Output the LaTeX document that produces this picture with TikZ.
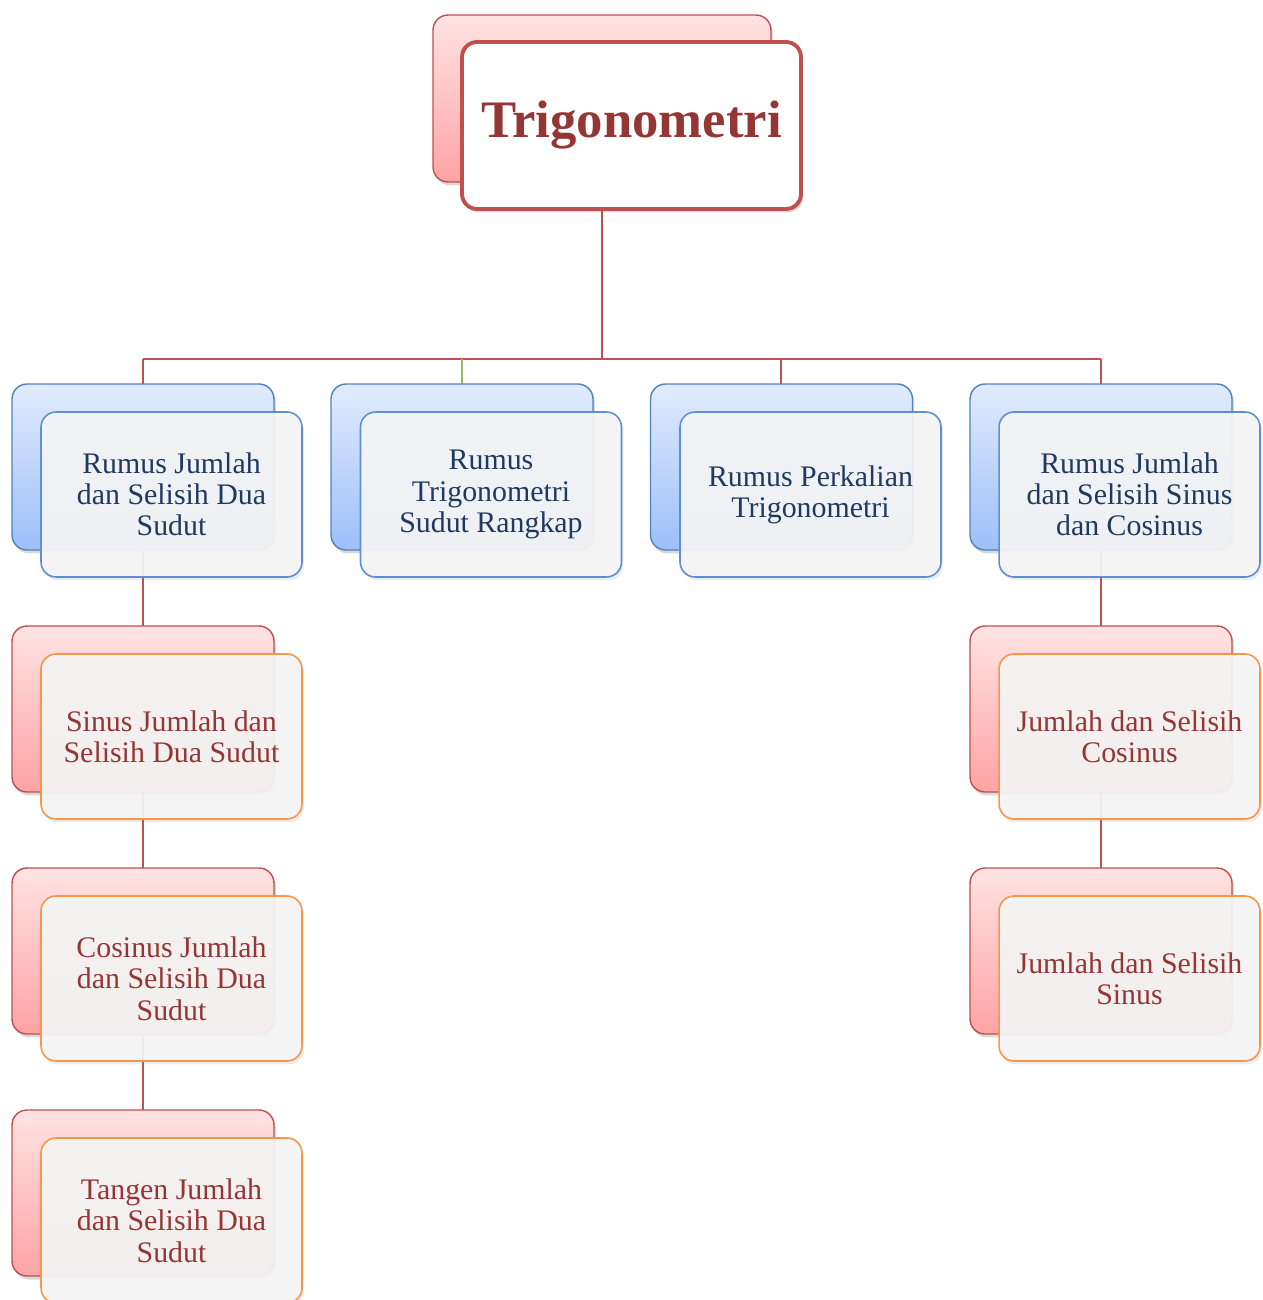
\documentclass[tikz,border=0pt]{standalone}
\usepackage{fontspec}
\setmainfont{Liberation Serif}
\usetikzlibrary{shadows}
\definecolor{lineRed}{HTML}{C0504D}
\definecolor{lineGreen}{HTML}{9BBB59}
\definecolor{redEdge}{HTML}{C0504D}
\definecolor{redTop}{HTML}{FFE3E3}
\definecolor{redBot}{HTML}{FFA3A3}
\definecolor{blueEdge}{HTML}{4F81BD}
\definecolor{blueTop}{HTML}{E1EBFC}
\definecolor{blueBot}{HTML}{9DBFF9}
\definecolor{blueFront}{HTML}{5B8FD6}
\definecolor{orangeEdge}{HTML}{F79646}
\definecolor{frontFill}{HTML}{F5F5F5}
\definecolor{blueText}{HTML}{1F3A60}
\definecolor{redText}{HTML}{943634}
\tikzset{
  conn/.style={draw=lineRed, line width=1.1pt},
  shade/.style={drop shadow={opacity=0.3, shadow xshift=0.04cm, shadow yshift=-0.07cm}},
  lightshade/.style={drop shadow={opacity=0.15, shadow xshift=0.04cm, shadow yshift=-0.07cm}},
  backbox/.style={rounded corners=0.3cm, minimum width=5.24cm, minimum height=3.32cm, inner sep=0pt, line width=0.8pt, shade},
  blueback/.style={backbox, draw=blueEdge, top color=blueTop, bottom color=blueBot},
  redback/.style={backbox, draw=redEdge, top color=redTop, bottom color=redBot},
  frontbox/.style={rounded corners=0.3cm, minimum width=5.22cm, minimum height=3.3cm, inner sep=0pt, line width=0.9pt, fill=frontFill, fill opacity=0.93, text opacity=1, align=center, font=\fontsize{17}{17.8}\selectfont, lightshade},
  bluefront/.style={frontbox, draw=blueFront, text=blueText},
  redfront/.style={frontbox, draw=orangeEdge, text=redText},
}
\begin{document}
\begin{tikzpicture}[x=0.02cm, y=-0.02cm]
\useasboundingbox (0,0) rectangle (1262,1300);
% connectors first (behind boxes)
\coordinate (bar) at (602,359);
\coordinate (t1) at (143,359);
\coordinate (t2) at (462,359);
\coordinate (t3) at (781,359);
\coordinate (t4) at (1101,359);
\coordinate (topbottom) at (602,209);
\draw[conn] (topbottom) -- (bar);
\draw[conn] (t1) -- (t4);
\draw[conn] (t1) -- (143,384);
\draw[draw=lineGreen, line width=1.1pt] (t2) -- (462,384);
\draw[conn] (t3) -- (781,384);
\draw[conn] (t4) -- (1101,384);
\coordinate (c1a) at (143,550); \coordinate (c1b) at (143,626);
\coordinate (c2a) at (143,792); \coordinate (c2b) at (143,868);
\coordinate (c3a) at (143,1034); \coordinate (c3b) at (143,1110);
\coordinate (c4a) at (1101,550); \coordinate (c4b) at (1101,626);
\coordinate (c5a) at (1101,792); \coordinate (c5b) at (1101,868);
\draw[conn] (c1a) -- (c1b);
\draw[conn] (c2a) -- (c2b);
\draw[conn] (c3a) -- (c3b);
\draw[conn] (c4a) -- (c4b);
\draw[conn] (c5a) -- (c5b);
% top
\node[redback, minimum width=6.76cm, minimum height=3.34cm] (topback) at (602,98.5) {};
\node[rounded corners=0.3cm, minimum width=6.78cm, minimum height=3.34cm, inner sep=0pt, line width=2.2pt, draw=redEdge, fill=white, text=redText, font=\fontsize{30}{34}\selectfont\bfseries, shade] (top) at (631.5,125.5) {Trigonometri};
% blue row
\node[blueback] (b1back) at (143,467) {};
\node[bluefront] (b1) at (171.5,494.5) {Rumus Jumlah\\dan Selisih Dua\\Sudut};
\node[blueback] (b2back) at (462,467) {};
\node[bluefront] (b2) at (491,494.5) {Rumus\\Trigonometri\\Sudut Rangkap};
\node[blueback] (b3back) at (781.5,467) {};
\node[bluefront] (b3) at (810.5,494.5) {Rumus Perkalian\\Trigonometri};
\node[blueback] (b4back) at (1101,467) {};
\node[bluefront] (b4) at (1129.5,494.5) {Rumus Jumlah\\dan Selisih Sinus\\dan Cosinus};
% left column
\node[redback] (r1back) at (143,709) {};
\node[redfront] (r1) at (171.5,736.5) {Sinus Jumlah dan\\Selisih Dua Sudut};
\node[redback] (r2back) at (143,951) {};
\node[redfront] (r2) at (171.5,978.5) {Cosinus Jumlah\\dan Selisih Dua\\Sudut};
\node[redback] (r3back) at (143,1193) {};
\node[redfront] (r3) at (171.5,1220.5) {Tangen Jumlah\\dan Selisih Dua\\Sudut};
% right column
\node[redback] (s1back) at (1101,709) {};
\node[redfront] (s1) at (1129.5,736.5) {Jumlah dan Selisih\\Cosinus};
\node[redback] (s2back) at (1101,951) {};
\node[redfront] (s2) at (1129.5,978.5) {Jumlah dan Selisih\\Sinus};
\end{tikzpicture}
\end{document}
